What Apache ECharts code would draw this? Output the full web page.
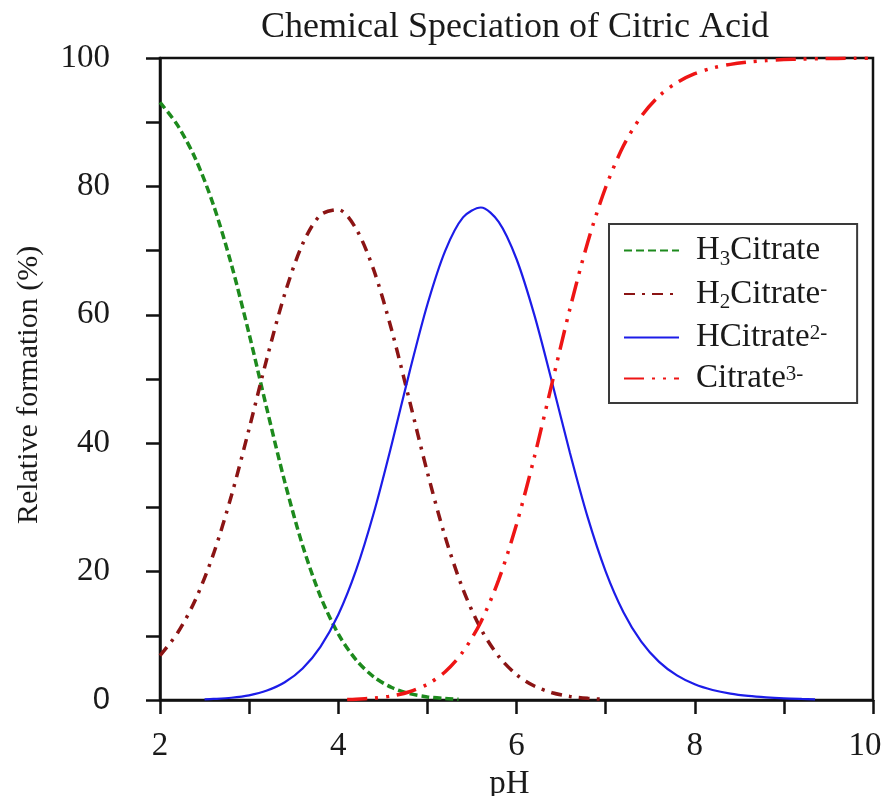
<!DOCTYPE html>
<html>
<head>
<meta charset="utf-8">
<style>
  html, body { margin: 0; padding: 0; background: #fff; }
  #chart { width: 885px; height: 796px; }
</style>
<script src="https://cdn.jsdelivr.net/npm/echarts@6/dist/echarts.min.js"></script>
</head>
<body>
<div id="chart"></div>
<script>
// Citric acid species distribution (% of total) versus pH
const pH_H3 = [2.0, 2.2, 2.4, 2.6, 2.8, 3.0, 3.2, 3.4, 3.6, 3.8, 4.0, 4.2, 4.4, 4.6, 4.8, 5.0, 5.2, 5.35];
const h3Citrate = [93.09, 89.46, 84.24, 77.09, 67.89, 57.01, 45.30, 33.97, 24.06, 16.15, 10.30, 6.25, 3.59, 1.95, 1.00, 0.48, 0.22, 0.12];

const pH_H2 = [2.0, 2.2, 2.4, 2.6, 2.8, 3.0, 3.2, 3.4, 3.6, 3.8, 4.0, 4.2, 4.4, 4.6, 4.8, 5.0, 5.2, 5.4, 5.6, 5.8, 6.0, 6.2, 6.4, 6.6, 6.8, 6.95];
const h2Citrate = [6.90, 10.51, 15.69, 22.75, 31.76, 42.26, 53.23, 63.26, 71.02, 75.54, 76.37, 73.41, 66.91, 57.58, 46.61, 35.46, 25.40, 17.22, 11.09, 6.79, 3.95, 2.18, 1.13, 0.56, 0.26, 0.14];

const pH_H1 = [2.5, 2.6, 2.8, 3.0, 3.2, 3.4, 3.6, 3.8, 4.0, 4.2, 4.4, 4.6, 4.8, 5.0, 5.2, 5.4, 5.6, 5.8, 6.0, 6.2, 6.4, 6.6, 6.8, 7.0, 7.2, 7.4, 7.6, 7.8, 8.0, 8.2, 8.4, 8.6, 8.8, 9.0, 9.2, 9.35];
const hCitrate = [0.10, 0.16, 0.35, 0.73, 1.47, 2.76, 4.91, 8.28, 13.27, 20.22, 29.21, 39.84, 51.11, 61.61, 69.97, 75.17, 76.71, 74.48, 68.69, 59.98, 49.43, 38.47, 28.40, 20.05, 13.68, 9.09, 5.94, 3.83, 2.45, 1.56, 0.99, 0.63, 0.40, 0.25, 0.16, 0.11];

const pH_C3 = [4.1, 4.2, 4.4, 4.6, 4.8, 5.0, 5.2, 5.4, 5.6, 5.8, 6.0, 6.2, 6.4, 6.6, 6.8, 7.0, 7.2, 7.4, 7.6, 7.8, 8.0, 8.2, 8.4, 8.6, 8.8, 9.0, 9.2, 9.4, 9.6, 9.8, 10.0];
const citrate = [0.08, 0.13, 0.29, 0.63, 1.28, 2.45, 4.41, 7.52, 12.16, 18.71, 27.35, 37.84, 49.43, 60.97, 71.34, 79.83, 86.32, 90.91, 94.07, 96.17, 97.55, 98.44, 99.01, 99.37, 99.60, 99.75, 99.84, 99.90, 99.94, 99.96, 99.97];

const seriesNames = ['H3Citrate', 'H2Citrate-', 'HCitrate2-', 'Citrate3-'];
// rich-text labels with sub/superscripts for the legend
const legendLabels = {
  'H3Citrate': '{n|H}{sub|3}{n|Citrate}',
  'H2Citrate-': '{n|H}{sub|2}{n|Citrate}{sup|-}',
  'HCitrate2-': '{n|HCitrate}{sup|2-}',
  'Citrate3-': '{n|Citrate}{sup|3-}'
};

const xTicks = { min: 2, max: 10, step: 1, labelEvery: 2 };
const yTicks = { min: 0, max: 100, step: 10, labelEvery: 20 };

const SERIF = "'Liberation Serif', 'Times New Roman', serif";
const pairs = (xs, ys) => xs.map((x, i) => [x, ys[i]]);

const chart = echarts.init(document.getElementById('chart'), null, { renderer: 'canvas' });

function lineSeries(name, xs, ys, color, width, dash) {
  return {
    name: name,
    type: 'line',
    data: pairs(xs, ys),
    smooth: 0.3,
    symbol: 'none',
    showSymbol: false,
    clip: true,
    lineStyle: { color: color, width: width, type: dash, cap: 'butt' },
    itemStyle: { color: color },
    emphasis: { disabled: true },
    z: 3
  };
}

chart.setOption({
  animation: false,
  backgroundColor: '#ffffff',
  title: {
    text: 'Chemical Speciation of Citric Acid',
    left: 510,
    top: 5,
    textAlign: 'center',
    textStyle: { fontFamily: SERIF, fontSize: 36, fontWeight: 'normal', color: '#1a1a1a' }
  },
  grid: {
    left: 160, right: 12, top: 58, bottom: 96,
    outerBoundsMode: 'none',
    containLabel: false,
    show: true,
    borderColor: '#111',
    borderWidth: 2.5,
    backgroundColor: 'transparent'
  },
  legend: {
    orient: 'vertical',
    left: 609,
    top: 224,
    padding: [10, 30, 8, 14],
    itemGap: 8,
    itemWidth: 55,
    itemHeight: 14,
    borderColor: '#3a3a3a',
    borderWidth: 2,
    backgroundColor: '#fff',
    itemStyle: { opacity: 0, borderWidth: 0 },
    data: seriesNames,
    formatter: name => legendLabels[name],
    textStyle: {
      fontFamily: SERIF,
      color: '#1a1a1a',
      padding: [0, 0, 0, 12],
      rich: {
        n: { fontFamily: SERIF, fontSize: 33, lineHeight: 38, color: '#1a1a1a' },
        sub: { fontFamily: SERIF, fontSize: 21, verticalAlign: 'bottom', color: '#1a1a1a' },
        sup: { fontFamily: SERIF, fontSize: 21, verticalAlign: 'top', padding: [4, 0, 0, 0], color: '#1a1a1a' }
      }
    }
  },
  xAxis: {
    type: 'value',
    min: xTicks.min,
    max: xTicks.max,
    interval: xTicks.step,
    name: 'pH',
    nameLocation: 'middle',
    nameGap: 68,
    nameTextStyle: { fontFamily: SERIF, fontSize: 33, color: '#1a1a1a', padding: [0, 14, 0, 0] },
    axisLine: { onZero: false, lineStyle: { color: '#111', width: 2.5 } },
    axisTick: { show: true, inside: false, length: 14, lineStyle: { color: '#111', width: 2.5 } },
    axisLabel: {
      fontFamily: SERIF, fontSize: 33, color: '#1a1a1a', margin: 30,
      formatter: v => {
        if (Math.round(v) % xTicks.labelEvery !== 0) return '';
        return v === xTicks.max ? '{last|' + v + '}' : String(v);
      },
      rich: { last: { fontFamily: SERIF, fontSize: 33, color: '#1a1a1a', padding: [0, 16, 0, 0] } }
    },
    splitLine: { show: false }
  },
  yAxis: {
    type: 'value',
    min: yTicks.min,
    max: yTicks.max,
    interval: yTicks.step,
    name: 'Relative formation (%)',
    nameLocation: 'middle',
    nameGap: 116,
    nameRotate: 90,
    nameTextStyle: { fontFamily: SERIF, fontSize: 30, color: '#1a1a1a', padding: [0, 12, 0, 0] },
    axisLine: { show: true, onZero: false, lineStyle: { color: '#111', width: 2.5 } },
    axisTick: { show: true, inside: false, length: 14, lineStyle: { color: '#111', width: 2.5 } },
    axisLabel: {
      fontFamily: SERIF, fontSize: 33, color: '#1a1a1a', margin: 50,
      formatter: v => {
        if (Math.round(v) % yTicks.labelEvery !== 0) return '';
        return v === 0 ? '{s|0}' : String(v);
      },
      rich: { s: { fontFamily: "'Liberation Sans', Arial, sans-serif", fontSize: 31, color: '#1a1a1a' } }
    },
    splitLine: { show: false }
  },
  series: [
    lineSeries('H3Citrate', pH_H3, h3Citrate, '#1d8a1d', 3.5, [8, 4]),
    lineSeries('H2Citrate-', pH_H2, h2Citrate, '#8b1414', 3.5, [11, 7, 3, 7]),
    lineSeries('HCitrate2-', pH_H1, hCitrate, '#1c1ce8', 2.2, 'solid'),
    lineSeries('Citrate3-', pH_C3, citrate, '#ee1515', 3.5, [20, 8, 3, 8, 3, 8])
  ]
});
</script>
</body>
</html>
